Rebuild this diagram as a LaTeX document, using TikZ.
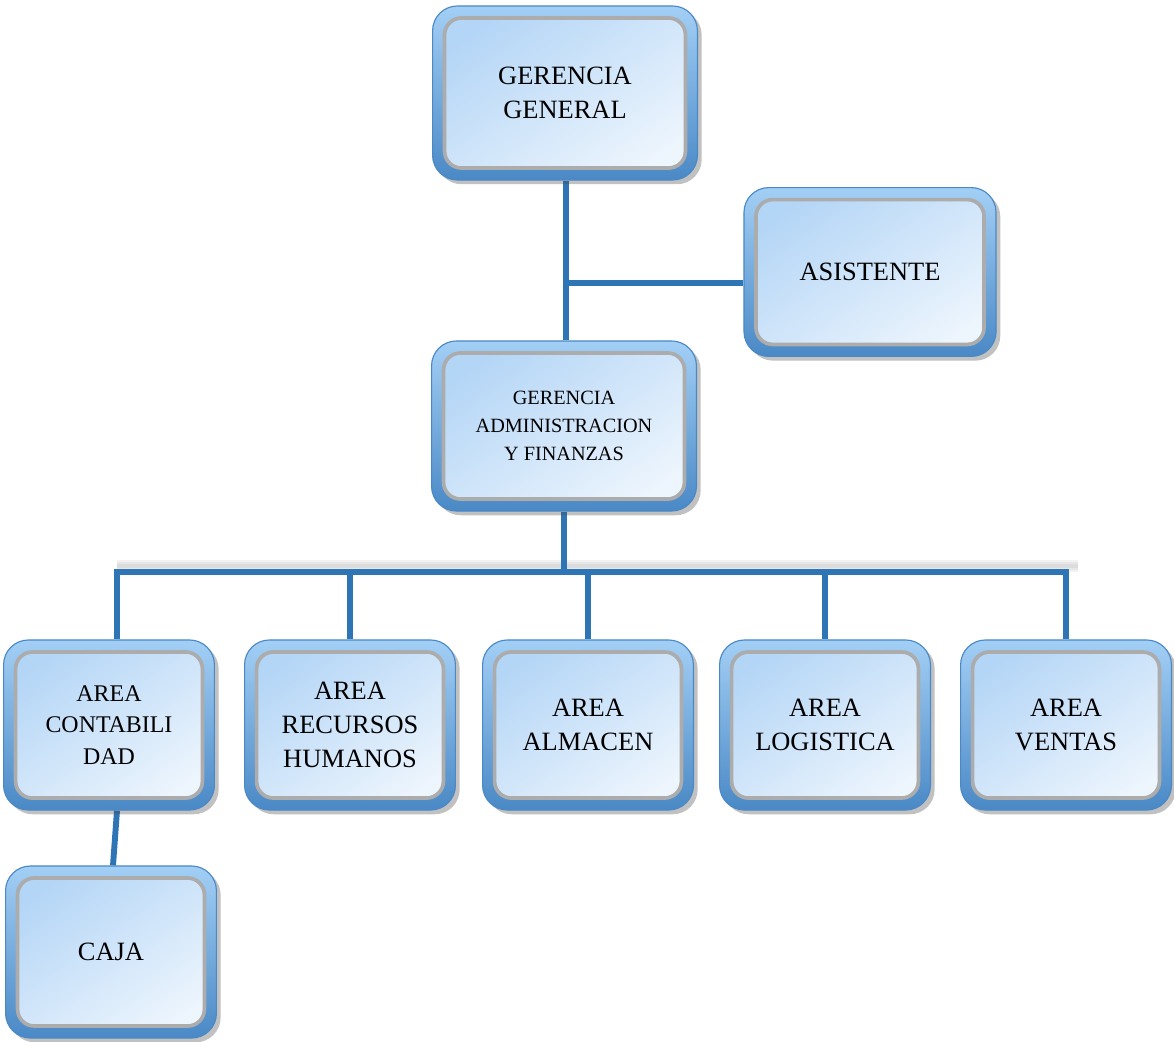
\documentclass[tikz,border=0pt]{standalone}
\usepackage{fontspec}
\setmainfont{Liberation Serif}
\usepackage{tikz}
\usetikzlibrary{positioning,shadows,backgrounds,calc}

\definecolor{linkblue}{HTML}{2E75B6}
\definecolor{frametop}{HTML}{A3CFF5}
\definecolor{framebot}{HTML}{4A89C6}
\definecolor{innertop}{HTML}{B3D5F6}
\definecolor{innerbot}{HTML}{EDF5FD}

\begin{document}
\begin{tikzpicture}[
  x=0.025cm, y=-0.025cm,
  orgbox/.style={rounded corners=0.62cm, draw=framebot, line width=0.8pt,
    top color=frametop, bottom color=framebot, shading angle=0,
    minimum width=5.27cm, minimum height=4.25cm, align=center,
    font=\fontsize{18.8pt}{24pt}\selectfont,
    drop shadow={shadow xshift=3pt, shadow yshift=-3pt, opacity=0.35, fill=black!70},
    path picture={
      \draw[draw=gray!65, line width=2.6pt, rounded corners=0.42cm,
        top color=innertop, bottom color=innerbot, shading angle=35]
        ([shift={(0.3cm,0.3cm)}]path picture bounding box.south west)
        rectangle ([shift={(-0.3cm,-0.3cm)}]path picture bounding box.north east);
    }},
  link/.style={draw=linkblue, line width=4.2pt},
  busshade/.style={draw=gray, opacity=0.1}
]
\useasboundingbox (0,0) rectangle (1174,1041);

\node[orgbox, minimum width=6.62cm, minimum height=4.35cm] (gg) at (565,93) {GERENCIA\\GENERAL};
\node[orgbox, minimum width=6.3cm, minimum height=4.22cm] (as) at (870,272) {ASISTENTE};
\node[orgbox, minimum width=6.62cm, minimum height=4.25cm,
  font=\fontsize{14.4pt}{19.9pt}\selectfont] (ga) at (564,426) {GERENCIA\\ADMINISTRACION\\Y FINANZAS};

\node[orgbox, font=\fontsize{17pt}{22.3pt}\selectfont] (cont) at (109,725) {AREA\\CONTABILI\\DAD};
\node[orgbox] (rrhh) at (350,725) {AREA\\RECURSOS\\HUMANOS};
\node[orgbox] (alm) at (588,725) {AREA\\ALMACEN};
\node[orgbox] (log) at (825,725) {AREA\\LOGISTICA};
\node[orgbox] (ven) at (1066,725) {AREA\\VENTAS};
\node[orgbox, minimum height=4.3cm] (caja) at (111,952) {CAJA};

\coordinate (asj) at (566,283);
\coordinate (bus) at (564,572);
\coordinate (contj) at ($(cont.north)+(8,0)$);

\begin{scope}[on background layer]
  % soft shade over the bus
  \foreach \w in {0.12,0.22,0.32}
    \draw[busshade, line width=\w cm] ($(contj |- bus)+(0,-6)$) -- ($(ven.north |- bus)+(12,-6)$);
  \draw[link] (gg.south -| asj) -- (ga.north -| asj);
  \draw[link] (asj) -- (asj -| as.west);
  \draw[link] (ga.south) -- (ga.south |- bus);
  \draw[link] ([xshift=-2pt]contj |- bus) -- ([xshift=2pt]ven.north |- bus);
  \draw[link] (contj |- bus) -- (contj);
  \foreach \n in {rrhh,alm,log,ven}
    \draw[link] (\n.north |- bus) -- (\n.north);
  \draw[link] ($(cont.south)+(8,0)$) -- ($(caja.north)+(2,0)$);
\end{scope}
\end{tikzpicture}
\end{document}
